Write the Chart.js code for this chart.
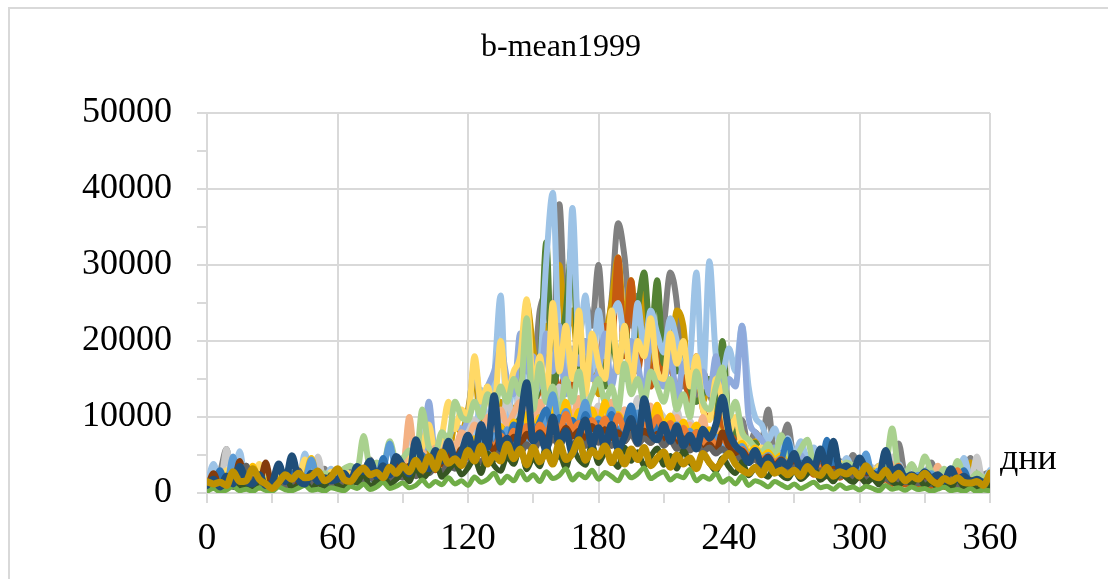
<!DOCTYPE html>
<html>
<head>
<meta charset="utf-8">
<script src="https://cdn.jsdelivr.net/npm/chart.js@4.4.0/dist/chart.umd.min.js"></script>
<style>
  html, body { margin: 0; padding: 0; background: #ffffff; }
  #wrap { position: relative; width: 1108px; height: 579px; overflow: hidden; }
  #frame { position: absolute; left: 8px; top: 7px; width: 1200px; height: 700px; border-left: 2px solid #D9D9D9; border-top: 2px solid #D9D9D9; box-sizing: border-box; }
  canvas { position: absolute; left: 0; top: 0; }
</style>
</head>
<body>
<div id="wrap">
  <div id="frame"></div>
  <canvas id="c" width="1108" height="579"></canvas>
</div>
<script>
const chartTitle = "b-mean1999";
const xAxisLabel = "дни";
const xTickLabels = [0, 60, 120, 180, 240, 300, 360];
const yTickLabels = [0, 10000, 20000, 30000, 40000, 50000];

const days = [
  0,3,6,9,12,15,18,21,24,27,
  30,33,36,39,42,45,48,51,54,57,
  60,63,66,69,72,75,78,81,84,87,
  90,93,96,99,102,105,108,111,114,117,
  120,123,126,129,132,135,138,141,144,147,
  150,153,156,159,162,165,168,171,174,177,
  180,183,186,189,192,195,198,201,204,207,
  210,213,216,219,222,225,228,231,234,237,
  240,243,246,249,252,255,258,261,264,267,
  270,273,276,279,282,285,288,291,294,297,
  300,303,306,309,312,315,318,321,324,327,
  330,333,336,339,342,345,348,351,354,357,
  360
];

const sGold = [
  1500,1200,1400,1000,2800,1500,1600,3200,1800,1200,
  600,1400,2400,1800,2600,2000,2200,2900,1600,2100,
  3200,1800,1500,2600,3300,2400,2700,2000,3400,2600,
  3600,2800,4300,3000,4800,3200,5400,3900,4500,3600,
  5600,4200,6200,3800,5000,4200,6400,4500,5800,3700,
  6000,4100,5400,3800,6600,4400,5200,7000,4300,5600,
  4800,6200,4000,5500,3800,5800,4400,6000,3600,4600,
  5400,3400,5000,3800,4600,3200,5200,4000,3300,4300,
  5200,3800,3000,2600,3400,2400,3800,2600,3000,2400,
  3000,2200,3500,2600,2300,3400,2200,2800,2500,3000,
  2200,3600,2400,2000,3000,1800,2600,1600,2200,1800,
  2600,1700,1200,1900,1500,2000,1400,1300,1500,1000,
  2600
];
const sDarkBlue = [
  1000,1800,800,2200,1200,3500,1600,1200,2400,1000,
  1400,3800,1500,4900,1800,1200,2600,1500,2000,1600,
  1800,2600,1500,3500,2800,4200,2200,3600,2400,4800,
  3600,2500,7000,4000,3200,5600,4200,6800,4600,5400,
  7600,5000,9000,6000,12800,5800,7200,5000,9400,14500,
  6800,7800,5600,10000,6400,8200,5200,7600,9600,6200,
  8600,6000,9000,5800,7400,9800,6600,12400,8000,7000,
  9000,6800,8800,6200,7600,5800,8400,7200,9000,12600,
  8000,6200,5400,4000,5600,3800,4600,3200,4200,3600,
  5200,3000,4400,3200,5800,3400,6800,3000,3600,2800,
  4600,3000,2600,2200,5600,2800,3400,2000,2400,1800,
  2800,2000,2400,1600,3200,1800,2200,1500,1800,1400,
  2000
];
const sLightBlue = [
  1200,3800,1500,2200,1000,5500,1200,2000,1500,2600,
  1000,1800,1400,2600,1200,5200,1800,2400,1500,3200,
  1500,2400,1800,3000,2200,2600,3800,2000,3400,2800,
  3000,4200,3400,5000,3800,6200,4400,7200,5200,6400,
  8400,6000,13600,8800,15000,26000,9000,14800,10200,19000,
  13000,16000,30500,39500,18000,15000,37500,20000,26000,16000,
  24000,18000,22500,25000,20000,17500,25000,19000,24000,21000,
  18500,23000,20000,16000,17500,29000,14000,30500,18000,16000,
  19000,16000,22000,14000,10000,9000,7000,8500,6000,7200,
  5000,6800,4500,6000,4000,5200,3800,3200,4600,3000,
  2800,3600,2500,3200,5000,2600,3800,2200,2800,2000,
  3000,2400,3200,2000,2600,1800,4600,2200,2000,1800,
  3000
];
const sGray = [
  800,1600,2800,5800,1200,1400,3600,1000,2200,1400,
  1200,3600,1600,2200,1400,2600,1800,1200,3200,1500,
  2200,1600,3000,2000,2600,4400,2000,3200,2600,3600,
  4400,3000,5800,3600,7200,4200,5600,6600,5000,4800,
  6400,5800,8000,6200,9400,7000,12000,10000,13000,22000,
  16000,24000,26000,18000,38000,22000,32000,21000,25000,22000,
  30000,20000,25500,35500,31000,22000,26000,20000,24000,18000,
  22000,29000,25000,14000,17000,12000,16000,13000,11000,9000,
  10000,8000,9600,6000,8000,7000,11000,5200,6400,9000,
  4600,6000,4200,5000,3600,5600,3200,4200,3000,5000,
  3200,4400,2800,3600,3000,2600,6500,2600,3600,2400,
  2400,4000,2000,2800,1800,3400,2200,4600,2000,2400,
  2800
];
const sGold2 = [
  600,1200,800,1500,900,1800,1000,1300,700,1600,
  900,1400,800,1800,1200,2200,1000,1600,1300,1900,
  1500,2400,1600,2800,2000,2400,1800,3000,2200,2600,
  3600,2400,4200,3000,5400,4000,6800,5000,9000,8000,
  11000,15600,9000,14000,10000,12000,8600,11000,13000,25000,
  19000,14000,22000,12000,30000,21000,24000,16000,18000,17000,
  13000,20000,25000,31000,22000,28000,19000,27000,16000,21000,
  20000,18000,24000,22000,14000,17000,12000,15000,10000,8000,
  9000,7400,8000,5600,6800,5000,5800,4200,5200,3800,
  4800,3200,4000,3000,3600,2600,3200,2400,2800,2200,
  2600,2000,2400,1800,3000,2200,1800,2400,1600,2000,
  1800,1400,2000,1200,1600,1000,1400,4000,1300,1100,
  1600
];
const sGreen = [
  1200,800,1500,900,2200,1000,1600,800,2500,1200,
  900,1500,1100,2000,1300,1800,1000,1400,1200,1600,
  1400,2000,1500,2800,1900,2400,2000,2600,1800,3000,
  2400,3200,2600,4000,3000,4600,3400,5000,4200,5800,
  6400,5000,7400,6000,9000,7600,11000,8400,13000,20000,
  12000,16000,33000,14000,18000,24000,33000,15000,20000,17000,
  18000,14000,21000,16000,22000,17000,24000,29000,20000,28000,
  17000,20000,16000,19000,14000,12000,13000,15000,11000,20000,
  9000,8000,7000,6000,6600,4800,5600,4200,5000,3600,
  4400,3000,3800,2600,3400,2400,3000,2200,2800,2000,
  2200,1800,2600,1600,2400,1400,2000,1500,1800,1300,
  1500,1200,1800,1000,1400,900,1600,1100,4000,1000,
  1400
];
const sYellow = [
  1000,2200,1400,3000,1200,1800,2600,1300,3800,1500,
  1200,2400,1500,2000,1800,4400,1400,2200,1600,2800,
  2000,3000,2400,3400,2800,3200,2600,3800,3000,4200,
  3400,4800,3800,6000,9000,5200,7600,12000,8400,11000,
  10000,18000,12000,14000,11000,20000,13000,16000,18000,25500,
  14000,18000,12000,25000,16000,22000,15000,24000,13000,21000,
  17000,15000,24000,16000,22000,14000,20000,18000,23000,16000,
  15000,21000,17000,20000,14000,18000,11000,9600,15000,12000,
  8000,10000,6400,7000,5200,6000,4200,5000,3800,4400,
  3400,4000,3000,3600,2600,3200,2400,4000,2600,3000,
  2400,2800,2200,3600,2000,2600,1800,2400,1600,2200,
  2000,1600,2400,1400,1800,1200,2200,1400,1600,1200,
  2000
];
const sLightGreen = [
  800,1400,900,1800,1200,2600,1000,1600,1200,1900,
  1400,1800,1300,2200,1600,2000,2400,1800,2600,2200,
  2400,3200,3600,3000,7500,3400,4000,3600,6800,4200,
  4600,5600,4000,11000,6000,5400,8000,7000,12000,10000,
  9600,12000,10000,13000,11000,14000,12000,15000,13000,23000,
  11000,17000,12000,14000,10000,15000,12000,16000,11000,13000,
  15000,12000,14000,11000,17000,13000,15000,12000,16000,14000,
  12000,15000,11000,13000,10000,16000,12000,11000,14000,16500,
  10000,12000,8000,7000,6000,5400,6400,4800,7600,5000,
  4400,5800,7000,4000,5200,3400,4600,3200,4000,3600,
  3000,3600,2800,2400,3200,8500,3000,2600,3800,2400,
  4800,2800,2200,3200,2000,4200,2400,1800,2600,2000,
  2400
];
const sPeriwinkle = [
  700,1200,800,1600,1000,1400,900,2000,1100,1500,
  900,1600,1100,1400,1200,2000,1300,1800,1100,1600,
  1500,1800,1400,2200,1800,2600,2000,2400,2200,3400,
  3000,5000,3600,4400,12000,5000,6400,7200,9000,8400,
  10000,17000,12000,14000,16000,19000,15000,13000,21000,16000,
  18000,14000,21000,16000,22000,13000,19000,17000,20000,15000,
  16000,21000,14000,18000,15000,20000,17000,13000,21000,16000,
  14000,19000,12000,17000,15000,14000,16000,13000,18000,12000,
  15000,14000,22000,10000,8000,7000,5800,6000,4800,5400,
  4200,5000,3600,4400,3200,3800,3000,3400,2800,3200,
  2600,3000,2400,2800,2200,2600,2000,2400,1800,2200,
  2000,1800,2400,1600,2000,1400,1800,1600,1500,1400,
  1800
];
const sOrange = [
  600,2800,800,1200,1000,3200,900,1500,2400,1000,
  800,1400,900,1200,1000,1800,900,1300,1000,1500,
  1100,1500,1200,1800,1400,2200,1600,2000,1800,2400,
  2600,2000,3000,2400,4000,3000,4600,3600,4400,5000,
  6000,5000,7000,6200,8400,7000,9000,8000,10000,12000,
  11000,14000,12000,17000,13000,16000,14000,18000,15000,20000,
  17000,22000,19000,31000,18000,28000,16000,21000,14000,19000,
  15000,17000,13000,16000,12000,18000,11000,10000,12000,9000,
  8000,7000,6200,5000,5600,4400,5000,3600,4400,3200,
  3800,2800,3400,2400,3000,2200,2800,2000,2600,1800,
  2000,1600,2200,1400,1800,1200,1600,1100,1400,1000,
  1200,900,1400,800,1100,700,1200,800,1000,700,
  1200
];
const sPeach = [
  900,1500,1000,1800,1200,2200,1000,1600,1300,2000,
  1000,1700,1200,2200,1400,1800,1300,2400,1500,2000,
  1800,2400,2000,2800,2200,3000,2400,3400,2600,3200,
  3200,10000,4000,5400,4400,6000,5200,7000,6000,8000,
  7400,9000,8200,10000,7600,11000,9000,10500,12000,11000,
  9000,12000,10000,13000,9500,11500,10000,12500,9000,11000,
  10500,9000,12000,9500,11000,8500,10000,9000,11500,8000,
  9500,8000,10000,7500,9000,7000,10000,6500,8500,7000,
  7500,6000,6500,5000,5500,4200,5000,3800,4400,3400,
  4000,3200,3600,2800,3400,2600,3000,2400,3600,2200,
  2600,2000,2400,1800,2200,3800,2000,1600,2400,1500,
  2000,1400,3600,1200,1600,1000,1400,1200,1300,1000,
  1400
];
const sBlue = [
  500,1000,3000,700,1200,900,1500,800,1300,700,
  800,1200,900,2600,1000,1800,900,1400,1000,1600,
  1200,1800,1300,2400,1600,2000,1500,4600,1800,2600,
  2200,3000,2400,5000,2800,3600,3000,4200,3400,5400,
  4600,6000,5200,7400,5800,8000,6400,9000,7000,8600,
  7600,9400,11000,8000,10000,8400,9600,7800,10400,8600,
  9200,8000,10400,7600,9000,11500,8200,9800,7400,8800,
  7800,9000,7000,8400,6600,8000,6200,7400,6000,7000,
  6400,5200,5800,4400,5000,3800,4600,3400,4200,7000,
  3400,4000,3000,3800,2800,7000,3000,3600,2600,3200,
  2400,2800,2200,2600,2000,2400,1800,2200,1600,2000,
  1800,1500,2000,1300,1700,1200,3000,1300,1500,1100,
  1500
];
const sLightGray = [
  800,1300,900,5800,1100,1400,1000,1700,1200,1500,
  900,1400,1000,1600,1100,2000,1200,4800,1300,1800,
  1400,2000,1500,2400,1800,2800,2000,2400,2200,3000,
  3000,9000,3400,4800,4000,5600,4600,6800,5200,7400,
  8000,9600,8600,10000,11000,9000,12000,10000,13000,11000,
  12000,10500,13500,11000,14000,10000,12500,11000,13000,10000,
  11500,9500,12000,10000,11000,9000,12500,10500,9500,11000,
  10000,8500,11000,8000,9500,7500,9000,8000,8500,7000,
  7600,6200,7000,5400,6000,4800,5400,4400,5000,4000,
  4400,3600,4200,3200,4000,3000,3600,2800,3400,2600,
  3000,2600,3400,2200,2800,4800,2400,2000,2600,1800,
  2200,1700,2400,1500,2000,1300,1800,1400,4800,1200,
  2000
];
const sBrown = [
  700,2600,900,1500,1000,4200,1100,1800,1200,4000,
  900,1600,1000,1800,1100,2000,1200,1700,1300,1900,
  1400,2000,1500,2600,1800,3000,2000,2800,2200,4200,
  2800,3600,3000,4000,3400,4600,3800,5200,4200,5800,
  4800,6000,5200,6600,5600,7000,6000,7400,6400,7800,
  6800,8000,7000,8400,7200,8600,7400,8200,7000,8800,
  7600,8400,7200,8000,6800,8600,7000,8200,6600,7800,
  7000,7600,6400,7200,6000,6800,5600,6400,5400,8000,
  6000,5200,5600,4600,5000,4000,4800,3600,4400,3400,
  4000,3000,3600,2800,5400,2600,3200,2400,3000,2200,
  2600,2000,2400,1800,2200,1600,2000,1500,1800,1400,
  1600,1300,1500,1100,1400,1000,1300,1700,1200,1000,
  1300
];
const sLow1 = [
  300,1400,500,900,2000,600,1100,400,1700,800,
  500,1200,2200,700,1000,1600,500,1300,900,2400,
  1100,700,1900,1300,2600,900,1600,2300,1200,1800,
  2600,1500,3400,1900,2800,4200,2100,3000,3900,2400,
  3300,4500,2600,5200,3600,2900,4800,3800,6000,3100,
  4600,3500,6200,4100,5000,3300,5800,4400,3700,6400,
  3900,5200,4600,3400,6000,4200,5400,3600,4800,5900,
  3700,4900,3200,5600,4000,3300,5000,3900,2900,4600,
  3400,2600,4100,2300,3200,2800,2100,3600,2400,1900,
  2900,1800,2500,3400,1700,2300,1500,2800,2000,1400,
  2200,1300,1900,1100,2600,1500,1000,1800,1200,2100,
  900,1500,700,1200,600,1900,800,1000,500,1300,
  900
];
const sLow2 = [
  200,600,150,400,900,300,500,200,700,350,
  250,800,400,300,650,1000,350,500,250,700,
  500,300,900,600,1200,450,800,1400,600,900,
  1300,700,1000,1700,900,1500,1100,2000,1200,1600,
  1000,2100,1400,1800,2600,1300,2200,1600,2900,1700,
  2400,1500,2800,1900,2300,3200,1700,2500,2000,3000,
  1800,2700,2200,1600,2900,2000,2500,3300,1900,2400,
  2800,1700,2300,2000,3100,1600,2200,1800,2600,1400,
  1900,1200,2200,1000,1600,1300,800,1500,1100,700,
  1200,600,1000,1400,700,900,500,1100,600,800,
  400,900,600,300,1000,500,700,350,800,450,
  600,250,500,800,300,450,200,600,150,400,
  300
];
const sBlue2 = [
  1500,900,2000,1200,4800,1000,1700,900,1400,1100,
  1000,1500,1200,2400,1300,1700,4400,1600,1300,1900,
  1600,2200,1700,2600,1900,2400,2100,2900,6500,2700,
  2500,3300,2700,3800,3100,4400,3500,4600,3900,5200,
  5600,4400,6800,5200,7600,5800,8400,6400,9200,7000,
  8800,7200,9600,13000,9000,10800,8200,9400,12000,8400,
  9800,8600,11000,7800,9400,8200,10600,7600,9200,8000,
  8600,7200,9000,6800,8200,6400,7800,6000,7400,5600,
  6800,5200,6200,4800,5600,4400,5000,4000,4600,3800,
  4200,3400,3800,3000,3600,2800,4800,2600,3200,2400,
  2800,5200,2400,3000,2000,2600,1800,2200,1600,2400,
  1800,2600,1600,2000,1400,1800,1200,1600,1300,1100,
  1700
];
const sOrange2 = [
  900,1400,1000,1600,1100,1300,2600,1000,1500,1200,
  1100,1300,1000,1500,1200,1400,1100,1600,1300,1800,
  1300,1700,1400,2000,1600,2200,1800,2400,2000,2800,
  2400,3200,2600,3600,2800,4200,3200,4800,3600,5400,
  4800,6400,5400,7000,6000,7600,6400,8200,6800,8800,
  7400,9000,7800,9800,8000,10400,8400,9200,7800,9600,
  8200,9800,7600,10200,8400,9600,7800,9000,8600,10000,
  8000,9200,7400,8600,7000,8000,6600,7600,6200,7200,
  6000,5400,5800,4800,5200,4400,4800,4000,4400,3600,
  3800,3200,3600,2800,3400,2600,3000,2400,2800,2200,
  2400,2000,2600,1800,2200,1600,3600,1500,1800,1400,
  1600,1300,1500,1200,1400,3000,1300,1100,1200,1000,
  1400
];
const sDarkGray = [
  600,1000,700,1400,800,1200,3600,900,1100,800,
  800,1200,900,1400,3000,1100,1300,1000,1500,1200,
  1200,1600,1300,1800,1500,2000,1600,2200,1800,2400,
  2000,2800,2200,3000,2600,3400,2800,3800,3200,4200,
  3600,4800,4000,5200,4400,5600,4800,6000,5200,6400,
  5600,6800,6000,7200,6200,7400,6400,7000,6200,7600,
  6600,7400,6200,7000,6800,7800,6400,7200,6600,7400,
  6200,7000,5800,6600,5600,6400,5400,6000,5200,5800,
  5000,4400,4800,4000,4400,3600,4200,3400,3800,3200,
  3400,2800,3200,2600,3000,2400,2800,2200,2600,2000,
  2200,1800,2000,1600,1900,1500,1800,1400,1600,1300,
  1400,1200,1300,1100,1200,1000,1100,900,1000,800,
  1100
];
const sAmber = [
  1100,1600,1200,2400,1300,1800,1400,3600,1500,1700,
  1300,1800,1400,2600,1500,2000,4600,1700,2100,1600,
  1700,2300,1800,2700,2000,2600,2200,3000,2400,3300,
  2800,3600,3000,4200,3300,4800,3600,5200,4000,5800,
  5000,7200,5600,8000,6200,8800,6600,9400,7000,10400,
  8000,10000,8600,11400,9000,12000,8800,10800,8400,11000,
  9000,12000,8600,10400,9200,11200,8400,10000,9000,11600,
  8800,10200,8000,9400,7600,9000,7200,8400,7000,8000,
  7000,6000,6600,5200,6000,4800,5400,4400,5000,4000,
  4400,3600,4000,3200,3800,3000,3400,2800,3200,2600,
  2800,2400,3000,2200,2600,2000,2400,1800,2200,1700,
  2000,1600,1800,1400,1700,1300,1500,1200,1400,1100,
  1600
];

// top-most first
const seriesList = [
  { name: "s1",  values: sGold,       color: "#BF9000", width: 7 },
  { name: "s2",  values: sDarkBlue,   color: "#1F4E79", width: 7 },
  { name: "s3",  values: sLow2,       color: "#70AD47", width: 5 },
  { name: "s4",  values: sLow1,       color: "#375623", width: 5.5 },
  { name: "s5",  values: sDarkGray,   color: "#636363", width: 6 },
  { name: "s6",  values: sBrown,      color: "#843C0C", width: 6 },
  { name: "s7",  values: sOrange2,    color: "#ED7D31", width: 6 },
  { name: "s8",  values: sBlue,       color: "#2E75B6", width: 6 },
  { name: "s9",  values: sBlue2,      color: "#5B9BD5", width: 6 },
  { name: "s10", values: sAmber,      color: "#FFC000", width: 6 },
  { name: "s11", values: sLightGreen, color: "#A9D18E", width: 6 },
  { name: "s12", values: sPeach,      color: "#F4B183", width: 6 },
  { name: "s13", values: sYellow,     color: "#FFD966", width: 6 },
  { name: "s14", values: sLightGray,  color: "#C9C9C9", width: 6 },
  { name: "s15", values: sPeriwinkle, color: "#8FAADC", width: 6 },
  { name: "s16", values: sLightBlue,  color: "#9DC3E6", width: 6 },
  { name: "s17", values: sGreen,      color: "#548235", width: 6 },
  { name: "s18", values: sOrange,     color: "#C55A11", width: 6 },
  { name: "s19", values: sGold2,      color: "#CC9900", width: 6 },
  { name: "s20", values: sGray,       color: "#808080", width: 6 }
];

const datasets = seriesList.map(s => ({
  label: s.name,
  data: s.values.map((v, i) => ({ x: days[i], y: v })),
  borderColor: s.color,
  backgroundColor: s.color,
  borderWidth: s.width,
  pointRadius: 0,
  cubicInterpolationMode: 'monotone',
  borderJoinStyle: 'round',
  borderCapStyle: 'round',
  fill: false,
  yAxisID: 'y'
}));

const serif = "'Liberation Serif', 'Times New Roman', serif";
const gridGray = "#D9D9D9";

const axisNamePlugin = {
  id: 'axisName',
  afterDraw(chart) {
    const ctx = chart.ctx;
    ctx.save();
    ctx.fillStyle = "#000";
    ctx.font = "36px " + serif;
    ctx.textAlign = "left";
    ctx.textBaseline = "alphabetic";
    ctx.fillText(xAxisLabel, 1000, 469);
    ctx.restore();
  }
};

new Chart(document.getElementById('c'), {
  type: 'line',
  data: { datasets },
  options: {
    responsive: false,
    devicePixelRatio: 1,
    animation: false,
    events: [],
    layout: { padding: { left: 14, right: 0, top: 0, bottom: 0 } },
    plugins: {
      legend: { display: false },
      tooltip: { enabled: false },
      title: {
        display: true,
        text: chartTitle,
        color: "#000",
        font: { family: serif, size: 32, weight: 'normal', lineHeight: 1.2 },
        padding: { top: 28, bottom: 46.6 }
      }
    },
    scales: {
      x: {
        type: 'linear',
        min: 0, max: 360,
        afterBuildTicks(scale) {
          const t = [];
          for (let v = 0; v <= 360; v += 30) t.push({ value: v });
          scale.ticks = t;
        },
        afterFit(scale) { scale.height = 86; },
        border: { display: true, color: gridGray, width: 2 },
        grid: {
          color: ctx => (ctx.tick && ctx.tick.value % 60 === 0) ? gridGray : 'rgba(0,0,0,0)',
          tickColor: gridGray,
          lineWidth: 2,
          tickLength: 10,
          drawOnChartArea: true
        },
        ticks: {
          autoSkip: false,
          maxRotation: 0,
          color: "#000",
          padding: 14,
          font: { family: serif, size: 37 },
          callback: v => xTickLabels.includes(v) ? String(v) : ''
        }
      },
      y: {
        min: 0, max: 50000,
        afterBuildTicks(scale) {
          const t = [];
          for (let v = 0; v <= 50000; v += 5000) t.push({ value: v });
          scale.ticks = t;
        },
        afterFit(scale) { scale.width = 193; },
        border: { display: true, color: gridGray, width: 2 },
        grid: {
          color: ctx => (ctx.tick && ctx.tick.value % 10000 === 0) ? gridGray : 'rgba(0,0,0,0)',
          tickColor: gridGray,
          lineWidth: 2,
          tickLength: 10
        },
        ticks: {
          autoSkip: false,
          color: "#000",
          padding: 25,
          font: { family: serif, size: 36 },
          callback: v => yTickLabels.includes(v) ? String(v) : ''
        }
      },
      yRight: {
        position: 'right',
        display: true,
        min: 0, max: 50000,
        afterFit(scale) { scale.width = 118; },
        border: { display: false },
        grid: { display: false, drawTicks: false },
        ticks: { display: false }
      }
    }
  },
  plugins: [axisNamePlugin]
});
</script>
</body>
</html>
